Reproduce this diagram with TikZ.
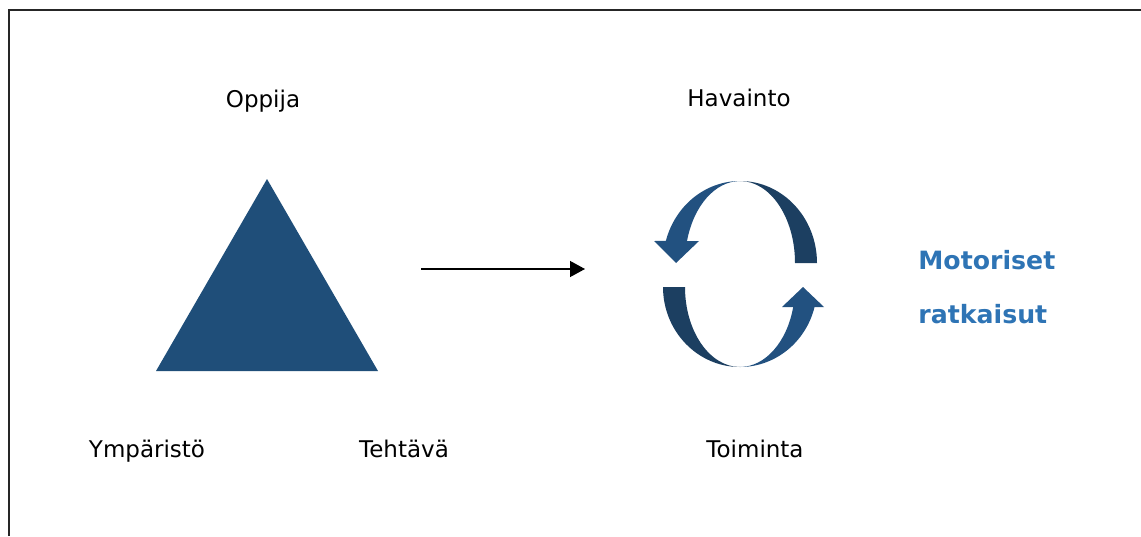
\documentclass[tikz,border=0pt]{standalone}
\usepackage{fontspec}
\setmainfont{DejaVu Sans}
\usetikzlibrary{arrows.meta}
\definecolor{trianglecol}{RGB}{31,78,121}
\definecolor{cycdark}{RGB}{28,63,97}
\definecolor{cyclight}{RGB}{34,81,128}
\definecolor{motorblue}{RGB}{46,116,181}

\begin{document}
\begin{tikzpicture}[x=0.5pt, y=-0.5pt,
		word/.style={anchor=base, inner sep=0pt, font=\fontsize{11.5}{14}\selectfont},
		bigword/.style={anchor=base west, inner sep=0pt, text=motorblue, font=\fontsize{12.6}{15}\bfseries},
		frameline/.style={draw=black!85, line width=0.75pt}
		]
	\useasboundingbox (0,0) rectangle (1141,536);
	% frame, cut at the right and bottom
	\draw[frameline] (9,536) -- (9,10) -- (1141,10);

	% triangle
	\fill[trianglecol] (267,179) -- (378,371) -- (156,371) -- cycle;
	\node[word](Oppija) at (263,107){Oppija};
	\node[word](Ymparisto) at (147,457){Ympäristö};
	\node[word](Tehtava) at (404,457){Tehtävä};

	% arrow between
	\coordinate (Afrom) at (421,269);
	\coordinate (Ato) at (585,269);
	\draw[line width=0.65pt, -{Triangle[length=7.5pt, width=8pt]}] (Afrom) -- (Ato);

	% cycle, upper arrow
	\fill[cycdark] (817,263) arc[start angle=0, end angle=-90, x radius=77, y radius=82]
		arc[start angle=-90, end angle=0, x radius=55, y radius=82] -- cycle;
	\fill[cyclight] (740,181) arc[start angle=-90, end angle=-164.4, x radius=77, y radius=82]
		-- (654,241) -- (676,263) -- (699,241) -- (687,241)
		arc[start angle=-164.4, end angle=-90, x radius=55, y radius=82] -- cycle;
	% cycle, lower arrow
	\fill[cycdark] (663,287) arc[start angle=180, end angle=90, x radius=77, y radius=80]
		arc[start angle=90, end angle=180, x radius=55, y radius=80] -- cycle;
	\fill[cyclight] (740,367) arc[start angle=90, end angle=14.5, x radius=77, y radius=80]
		-- (824,307) -- (803,287) -- (782,307) -- (793.2,307)
		arc[start angle=14.5, end angle=90, x radius=55, y radius=80] -- cycle;
	\node[word](Havainto) at (739,106){Havainto};
	\node[word](Toiminta) at (755,457){Toiminta};

	\node[bigword](Motoriset) at (918,269){Motoriset};
	\node[bigword](Ratkaisut) at (918,323){ratkaisut};
\end{tikzpicture}
\end{document}
